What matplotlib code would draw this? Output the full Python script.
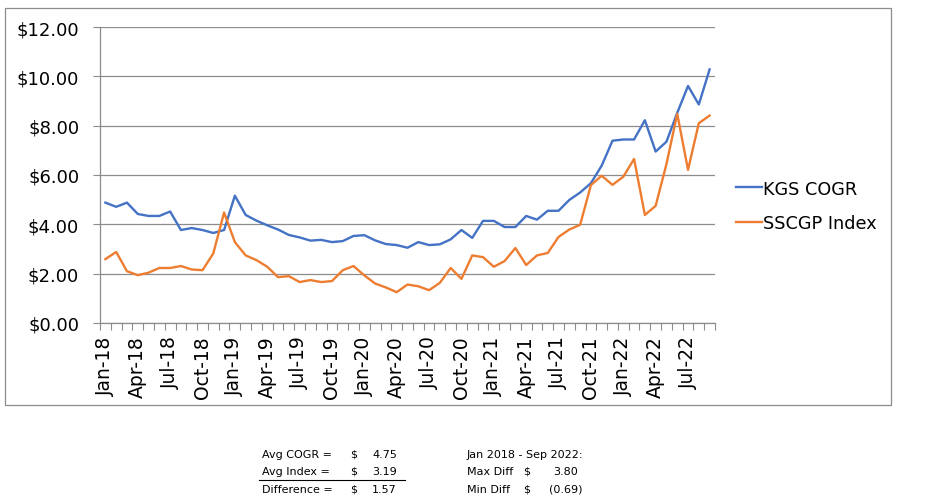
import numpy as np
import matplotlib
matplotlib.use('Agg')
import matplotlib.pyplot as plt
from matplotlib.patches import Rectangle
from matplotlib.lines import Line2D

plt.rcParams['font.family'] = ['DejaVu Sans']

# Monthly values Jan 2018 - Sep 2022
months = ['Jan', 'Feb', 'Mar', 'Apr', 'May', 'Jun', 'Jul', 'Aug', 'Sep', 'Oct', 'Nov', 'Dec']
labels = [f'{m}-{y % 100:02d}' for y in range(2018, 2023) for m in months][:57]

kgs_cogr = [4.88, 4.71, 4.88, 4.42, 4.34, 4.34, 4.52, 3.77, 3.85, 3.77, 3.65, 3.77,
            5.16, 4.38, 4.15, 3.96, 3.79, 3.57, 3.47, 3.34, 3.37, 3.28, 3.32, 3.53,
            3.56, 3.35, 3.20, 3.16, 3.05, 3.28, 3.16, 3.19, 3.39, 3.77, 3.45, 4.14,
            4.14, 3.89, 3.89, 4.34, 4.19, 4.55, 4.55, 4.99, 5.29, 5.67, 6.38, 7.39,
            7.44, 7.44, 8.22, 6.95, 7.35, 8.52, 9.61, 8.86, 10.28]
sscgp_index = [2.59, 2.88, 2.10, 1.94, 2.04, 2.23, 2.23, 2.31, 2.17, 2.14, 2.82, 4.48,
               3.28, 2.74, 2.55, 2.28, 1.86, 1.90, 1.66, 1.74, 1.66, 1.70, 2.14, 2.31,
               1.93, 1.60, 1.44, 1.25, 1.56, 1.49, 1.33, 1.63, 2.23, 1.79, 2.74, 2.67,
               2.28, 2.51, 3.04, 2.35, 2.74, 2.84, 3.49, 3.79, 3.98, 5.59, 5.97, 5.60,
               5.93, 6.65, 4.38, 4.75, 6.44, 8.48, 6.21, 8.10, 8.41]

W, H = 926, 502
fig = plt.figure(figsize=(W / 100, H / 100), dpi=100)
ax = fig.add_axes([100 / W, 1 - 324 / H, 615 / W, 296 / H])

x = np.arange(len(labels))
ax.plot(x, kgs_cogr, color='#4472C4', lw=1.7, label='KGS COGR')
ax.plot(x, sscgp_index, color='#ED7D31', lw=1.7, label='SSCGP Index')

ax.set_xlim(-0.5, len(labels) - 0.5)
ax.set_ylim(0, 12)
ax.set_yticks(np.arange(0, 13, 2))
ax.set_yticklabels([f'${v:.2f}' for v in np.arange(0, 13, 2)], fontsize=13)
ax.yaxis.grid(True, color='#8c8c8c', lw=0.9)
ax.set_axisbelow(True)

# tick marks between months, labels every quarter
ax.set_xticks(np.arange(-0.5, len(labels)), minor=False)
ax.set_xticklabels([])
ax.set_xticks(x[::3], minor=True)
ax.set_xticklabels(labels[::3], minor=True, rotation=90, fontsize=13.5)
ax.tick_params(axis='x', which='major', length=5, color='#8c8c8c', width=0.8)
ax.tick_params(axis='x', which='minor', length=0, pad=9)
ax.tick_params(axis='y', length=5, color='#8c8c8c', width=0.8, pad=10)

for s in ['top', 'right']:
    ax.spines[s].set_visible(False)
for s in ['left', 'bottom']:
    ax.spines[s].set_color('#8c8c8c')
    ax.spines[s].set_linewidth(0.9)

handles = [Line2D([], [], color='#4472C4', lw=1.7), Line2D([], [], color='#ED7D31', lw=1.7)]
fig.legend(handles, ['KGS COGR', 'SSCGP Index'], loc='center left',
           bbox_to_anchor=(736 / W, 1 - 207 / H), frameon=False, fontsize=12.7,
           handlelength=1.5, handletextpad=0.05, labelspacing=0.95,
           borderpad=0, borderaxespad=0)

# chart area border
fig.patches.append(Rectangle((5 / W, 1 - 406 / H), 886 / W, 397 / H, transform=fig.transFigure,
                             fill=False, edgecolor='#8c8c8c', lw=0.9))

# summary table below the chart
fs = 8
rows = [('Avg COGR =', '4.75', 455), ('Avg Index =', '3.19', 472), ('Difference =', '1.57', 490)]
for name, val, yp in rows:
    fig.text(262 / W, 1 - yp / H, name, fontsize=fs, va='center')
    fig.text(350 / W, 1 - yp / H, '$', fontsize=fs, va='center')
    fig.text(397 / W, 1 - yp / H, val, fontsize=fs, va='center', ha='right')
fig.add_artist(Line2D([259 / W, 405 / W], [1 - 481 / H, 1 - 481 / H], color='black', lw=0.8))

fig.text(467 / W, 1 - 455 / H, 'Jan 2018 - Sep 2022:', fontsize=fs, va='center')
fig.text(467 / W, 1 - 472 / H, 'Max Diff', fontsize=fs, va='center')
fig.text(523 / W, 1 - 472 / H, '$', fontsize=fs, va='center')
fig.text(578 / W, 1 - 472 / H, '3.80', fontsize=fs, va='center', ha='right')
fig.text(467 / W, 1 - 490 / H, 'Min Diff', fontsize=fs, va='center')
fig.text(523 / W, 1 - 490 / H, '$', fontsize=fs, va='center')
fig.text(582 / W, 1 - 490 / H, '(0.69)', fontsize=fs, va='center', ha='right')

fig.savefig('out.png', dpi=100)
